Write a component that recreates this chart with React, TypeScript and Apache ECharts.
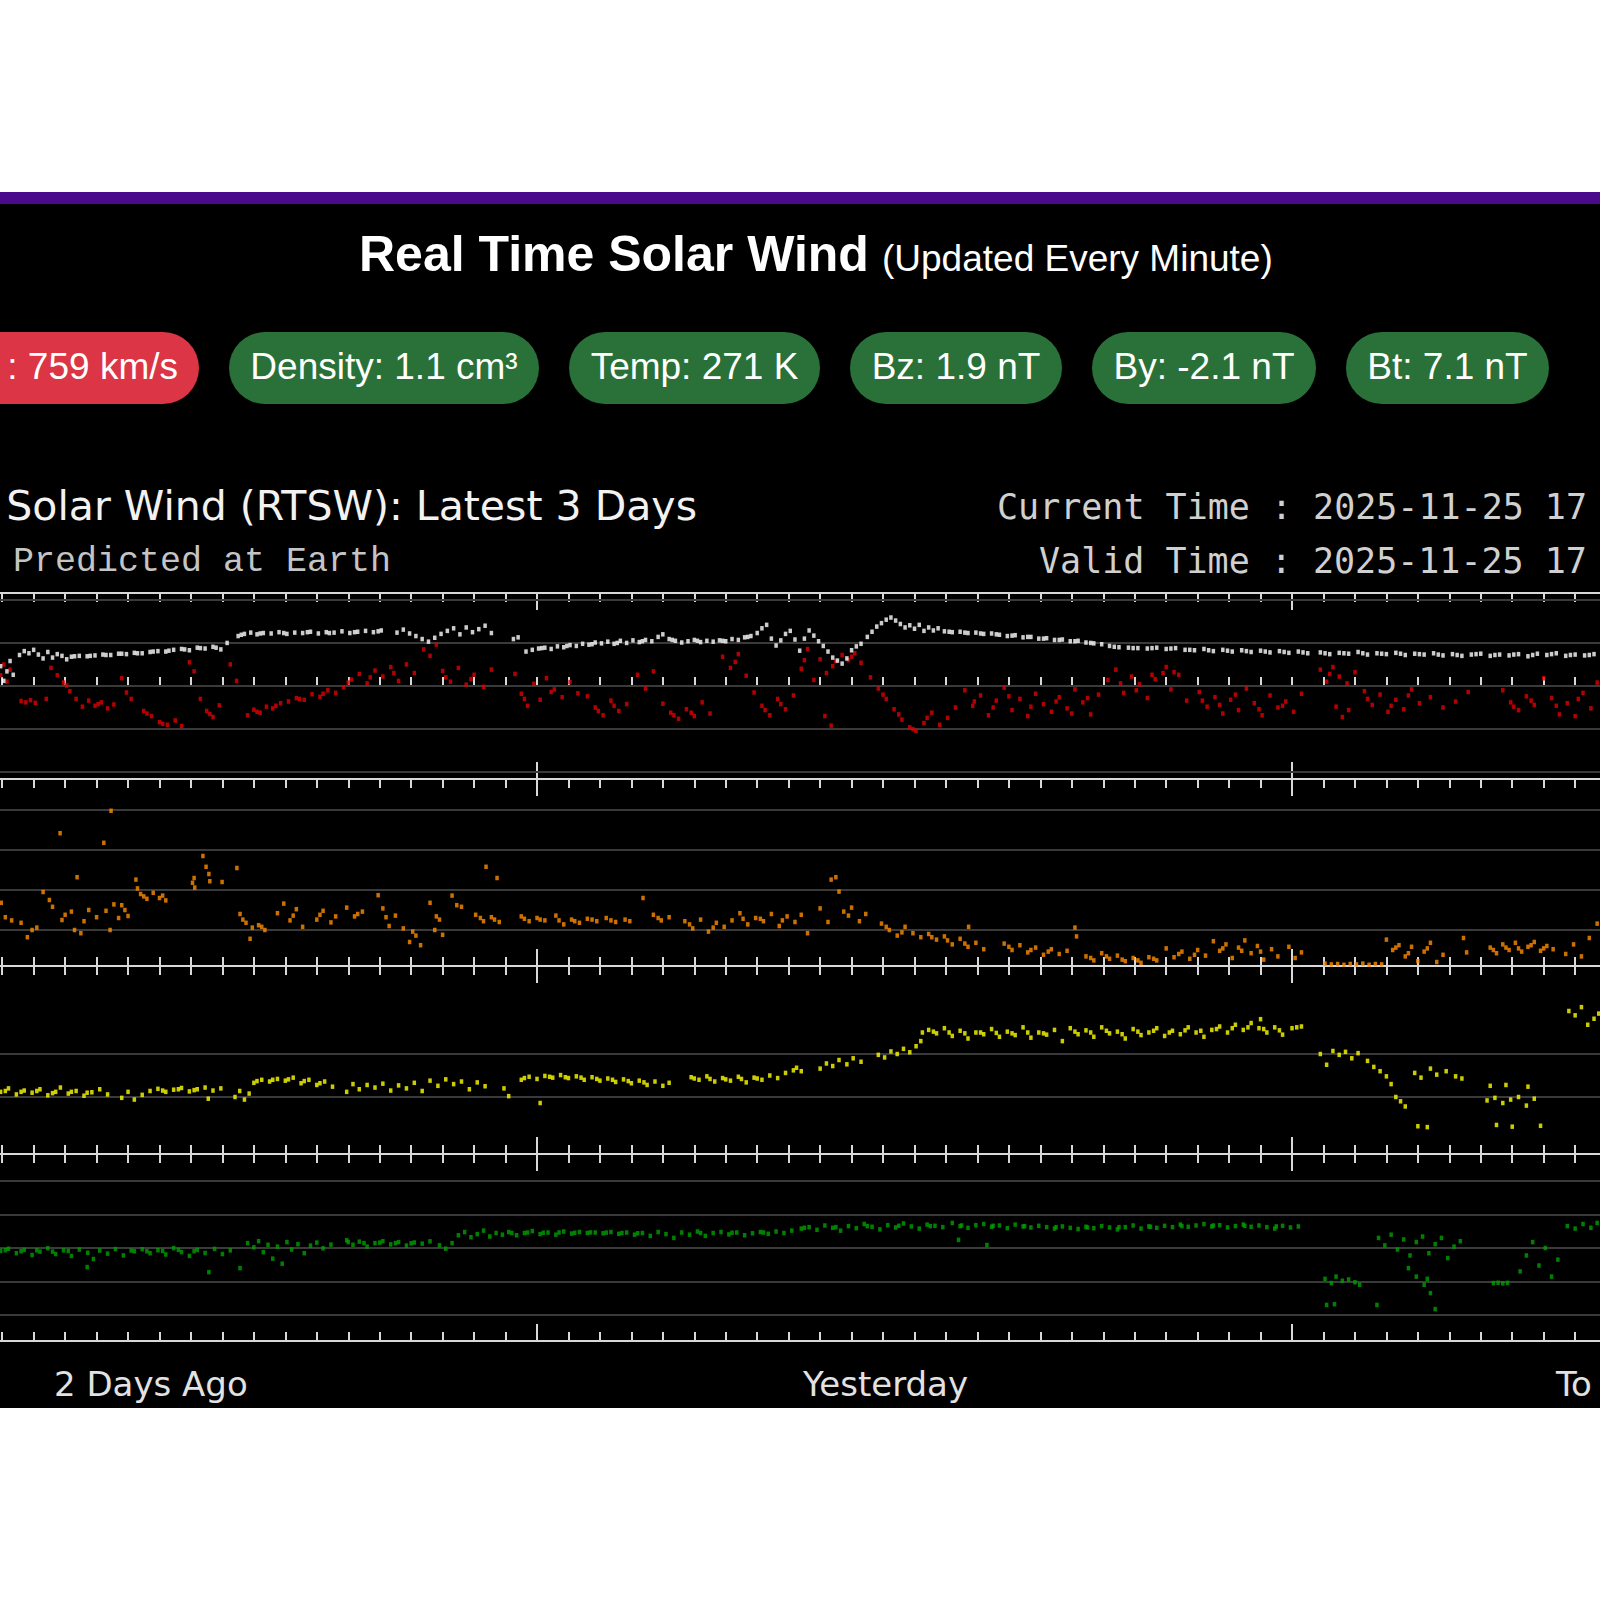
import React, { useEffect, useRef } from "react";
import * as echarts from "echarts";

// ---------- data ----------
const hourTicks = [7, 8, 9, 10, 11, 12, 13, 14, 15, 16, 17, 18, 19, 20, 21, 22, 23, 24, 25, 26, 27, 28, 29, 30, 31, 32, 33, 34, 35, 36, 37, 38, 39, 40, 41, 42, 43, 44, 45, 46, 47, 48, 49, 50, 51, 52, 53, 54, 55, 56, 57];
const dayTicks = [24, 48];
const dayLabels = ["2 Days Ago", "Yesterday", "To"];

const pillLabels = [": 759 km/s", "Density: 1.1 cm³", "Temp: 271 K", "Bz: 1.9 nT", "By: -2.1 nT", "Bt: 7.1 nT"];
const pillColors = ["#dc3545", "#2a7139", "#2a7139", "#2a7139", "#2a7139", "#2a7139"];

const btGridValues = [20, 10, 0, -10, -20];
const densityGridValues = [10, 20, 30, 40];
const speedGridValues = [500, 600];
const tempGridValues = [1e3, 1e4, 1e5, 1e6, 1e7];

// Bt (nT), hours since 2 days ago 00:00
const btData = [
  [6.95, 4.6], [7.05, 1.2], [7.15, 3.4], [7.25, 5.8], [7.35, 2.6],
  [7.55, 7.2], [7.7, 8.1], [7.85, 7.6], [8.0, 8.4], [8.15, 7.3], [8.3, 6.4], [8.45, 7.9], [8.6, 6.6], [8.75, 7.4], [8.9, 7.0], [9.05, 6.2],
  [9.2, 6.8], [9.3, 6.9], [9.45, 7.0], [9.7, 6.9], [9.8, 7.0], [9.95, 7.1], [10.2, 7.3], [10.3, 7.2], [10.45, 7.2], [10.7, 7.5], [10.8, 7.5], [10.95, 7.4], [11.2, 7.7], [11.3, 7.6], [11.45, 7.6], [11.7, 7.9], [11.8, 8.0], [11.95, 8.1], [12.2, 8.0], [12.3, 8.2], [12.45, 8.4], [12.7, 8.6], [12.8, 8.5], [12.95, 8.3], [13.2, 8.9], [13.3, 8.8], [13.45, 8.7], [13.7, 9.1], [13.8, 8.9], [13.95, 8.5], [14.15, 10.0],
  [14.5, 11.6], [14.6, 11.9], [14.7, 12.1], [14.9, 12.4], [15.1, 12.0], [15.2, 12.2], [15.3, 12.3], [15.55, 12.2], [15.8, 12.5], [15.95, 12.3], [16.05, 12.1], [16.3, 12.4], [16.55, 12.3], [16.7, 12.5], [16.8, 12.6], [17.05, 12.2], [17.3, 12.5], [17.4, 12.3], [17.55, 12.4], [17.8, 12.7], [18.05, 12.3], [18.2, 12.5], [18.3, 12.6], [18.55, 12.8], [18.8, 12.5], [18.95, 12.7], [19.05, 12.9],
  [19.55, 12.4], [19.75, 13.1], [19.95, 12.2], [20.15, 11.6], [20.35, 10.9], [20.55, 10.3], [20.75, 11.2], [20.95, 12.1], [21.15, 12.8], [21.35, 13.4], [21.55, 12.0], [21.75, 13.6], [21.95, 12.5], [22.15, 13.2], [22.35, 14.0], [22.55, 12.3],
  [23.25, 10.9], [23.4, 11.3],
  [23.65, 8.0], [23.85, 8.4], [24.05, 8.7], [24.15, 8.8], [24.25, 8.9], [24.45, 8.6], [24.65, 9.2], [24.85, 9.0], [24.95, 9.3], [25.05, 9.5], [25.25, 9.3], [25.45, 9.8], [25.65, 9.6], [25.75, 9.7], [25.85, 10.1], [26.05, 9.9], [26.25, 10.3], [26.45, 9.8], [26.55, 10.0], [26.65, 10.5], [26.85, 10.0], [27.05, 10.6], [27.25, 10.2], [27.35, 10.4], [27.45, 10.7], [27.65, 10.4], [27.85, 11.4], [28.0, 12.0], [28.2, 10.9], [28.3, 10.7], [28.4, 10.5], [28.6, 10.1], [28.8, 10.4], [29.0, 10.7], [29.1, 10.5], [29.2, 10.2], [29.4, 10.5], [29.6, 10.3], [29.8, 10.6], [29.9, 10.5], [30.0, 10.4], [30.2, 10.9], [30.4, 10.7], [30.6, 11.3], [30.7, 11.4], [30.8, 11.6], [31.0, 12.3], [31.15, 13.4], [31.3, 14.2], [31.45, 11.0], [31.6, 9.4], [31.75, 10.6], [31.9, 12.1], [32.05, 12.8], [32.2, 10.8],
  [32.35, 8.2], [32.5, 11.0], [32.65, 12.9], [32.8, 11.7], [32.95, 10.4], [33.1, 9.3], [33.25, 8.0], [33.4, 6.6], [33.55, 5.9], [33.7, 5.2], [33.85, 6.4], [34.0, 8.3], [34.15, 9.2], [34.3, 9.8],
  [34.5, 11.4], [34.65, 12.6], [34.8, 13.8], [34.95, 14.6], [35.1, 15.4], [35.25, 15.9], [35.4, 15.2], [35.55, 14.4], [35.7, 13.6], [35.85, 14.1], [36.0, 13.3], [36.15, 14.2], [36.3, 12.8], [36.45, 13.6], [36.6, 12.9], [36.75, 13.4],
  [36.95, 12.7], [37.1, 12.6], [37.2, 12.5], [37.45, 12.6], [37.6, 12.4], [37.7, 12.3], [37.95, 12.4], [38.1, 12.2], [38.2, 12.1], [38.45, 12.2], [38.6, 12.0], [38.7, 11.9], [38.95, 11.6], [39.1, 11.7], [39.2, 11.8], [39.45, 11.3], [39.6, 11.4], [39.7, 11.4], [39.95, 11.0], [40.1, 11.0], [40.2, 11.1], [40.45, 10.7], [40.6, 10.7], [40.7, 10.8], [40.95, 10.4], [41.1, 10.4], [41.2, 10.5], [41.45, 10.1], [41.6, 10.0], [41.7, 9.9], [41.95, 9.7],
  [42.2, 9.3], [42.35, 9.1], [42.5, 9.0], [42.8, 8.9], [42.95, 8.8], [43.1, 8.8], [43.4, 8.7], [43.55, 8.8], [43.7, 8.9], [44.0, 8.6], [44.15, 8.7], [44.3, 8.8], [44.6, 8.4], [44.75, 8.4], [44.9, 8.3], [45.2, 8.6], [45.35, 8.3], [45.5, 8.1], [45.8, 8.4], [45.95, 8.2], [46.1, 8.0], [46.4, 8.3], [46.55, 8.1], [46.7, 7.9], [47.0, 8.2], [47.15, 8.0], [47.3, 7.8], [47.6, 8.1], [47.75, 7.9], [47.9, 7.7], [48.2, 8.0], [48.35, 7.8], [48.5, 7.6],
  [48.9, 7.8], [49.05, 7.6], [49.2, 7.4], [49.5, 7.7], [49.65, 7.6], [49.8, 7.5], [50.1, 7.9], [50.25, 7.6], [50.4, 7.3], [50.7, 7.6], [50.85, 7.5], [51.0, 7.4], [51.3, 7.7], [51.45, 7.5], [51.6, 7.2], [51.9, 7.5], [52.05, 7.4], [52.2, 7.3], [52.5, 7.6], [52.65, 7.3], [52.8, 7.1], [53.1, 7.4], [53.25, 7.2], [53.4, 7.0], [53.7, 7.3], [53.85, 7.4], [54.0, 7.5], [54.3, 7.0], [54.45, 7.2], [54.6, 7.3], [54.9, 7.1], [55.05, 7.3], [55.2, 7.4], [55.5, 6.9], [55.65, 7.2], [55.8, 7.5], [56.1, 7.2], [56.25, 7.4], [56.4, 7.6], [56.7, 7.0], [56.85, 7.2], [57.0, 7.3], [57.3, 7.1], [57.45, 7.2], [57.6, 7.4],
];

// Bz (nT)
const bzData = [
  [6.95, 2.5], [7.05, 5.0], [7.15, 1.0], [7.25, 3.8],
  [7.6, -3.5], [7.75, -3.8], [7.9, -3.3], [8.05, -3.9], [8.4, -3.0],
  [8.55, 4.2], [8.75, 2.5], [8.95, 0.8], [9.05, 0.1], [9.15, -1.2], [9.35, -3.0], [9.55, -4.8],
  [9.75, -3.4], [9.95, -4.6], [10.05, -4.2], [10.15, -3.8], [10.35, -5.2], [10.55, -4.3],
  [10.8, 1.8], [10.95, -1.5], [11.1, -3.0],
  [11.5, -5.8], [11.6, -6.4], [11.75, -7.0], [12.0, -8.4], [12.1, -8.8], [12.25, -9.0], [12.5, -8.0], [12.7, -9.3],
  [12.95, 5.5], [13.1, 3.4],
  [13.3, -3.0], [13.5, -5.8], [13.6, -6.5], [13.7, -7.2], [13.9, -4.5],
  [14.25, 5.0], [14.45, 1.2],
  [14.8, -6.8], [15.0, -5.5], [15.1, -6.0], [15.2, -6.2], [15.4, -4.8], [15.6, -5.2], [15.7, -4.6], [15.85, -4.0],
  [16.1, -3.6], [16.35, -2.8], [16.45, -3.0], [16.6, -3.2], [16.85, -1.9], [17.1, -2.5], [17.2, -1.8], [17.35, -1.0], [17.6, -1.6], [17.85, -0.3],
  [18.0, 0.8], [18.1, 1.5], [18.35, 2.8], [18.6, 0.6], [18.7, 2.0], [18.85, 3.6], [19.1, 2.2], [19.35, 4.4], [19.45, 3.0], [19.6, 1.2], [19.85, 5.0], [20.1, 3.0],
  [20.4, 8.5], [20.6, 7.0], [20.8, 9.6],
  [21.0, 3.5], [21.1, 2.0], [21.25, 1.0], [21.5, 4.2], [21.75, 0.3], [21.9, 1.6], [22.0, 2.6], [22.3, -0.2], [22.55, 3.8],
  [23.3, 2.8], [23.5, -1.8], [23.6, -3.0], [23.7, -4.6], [23.9, 0.5], [24.1, -3.2],
  [24.3, 1.8], [24.45, -1.4], [24.55, -0.8], [24.8, -2.6], [25.05, 0.9], [25.3, -1.7],
  [25.6, -2.4], [25.85, -5.0], [25.95, -5.8], [26.1, -6.8], [26.35, -3.4], [26.45, -4.6], [26.6, -5.8], [26.85, -4.2],
  [27.2, 2.6], [27.45, -0.6], [27.7, 3.4],
  [28.0, -4.1], [28.25, -6.2], [28.35, -6.8], [28.5, -7.6], [28.75, -5.4], [28.9, -6.2], [29.0, -7.0], [29.25, -3.8], [29.5, -6.4],
  [29.9, 6.8], [30.15, 4.2], [30.3, 5.6], [30.4, 7.4], [30.65, 2.4],
  [30.9, -1.5], [31.15, -4.6], [31.25, -5.6], [31.4, -6.8], [31.65, -3.0], [31.75, -4.2], [31.9, -5.4], [32.15, -2.2],
  [32.4, 4.0], [32.5, 6.0], [32.6, 8.6], [32.8, 1.4], [33.0, 6.2], [33.2, 3.0], [33.4, 4.6], [33.5, 5.8], [33.7, 7.2], [33.9, 6.0], [34.0, 6.8], [34.1, 7.6], [34.3, 5.4],
  [33.15, -7.0], [33.35, -9.2],
  [34.6, 2.0], [34.85, -0.6], [35.0, -2.0], [35.1, -3.0], [35.35, -5.4], [35.5, -6.6], [35.6, -7.8], [35.85, -9.6], [35.95, -10.0], [36.05, -10.4], [36.3, -8.6], [36.4, -7.4], [36.55, -6.2], [36.8, -9.0], [37.05, -7.4], [37.3, -5.0],
  [37.6, -1.0], [37.85, -4.6], [37.9, -3.6], [38.1, -2.2], [38.35, -6.8], [38.5, -5.0], [38.6, -3.4], [38.85, -0.4], [39.0, -2.4], [39.1, -5.6], [39.35, -3.0], [39.6, -7.0], [39.7, -4.8], [39.85, -1.8], [40.1, -4.2], [40.35, -6.0], [40.5, -3.6], [40.6, -2.6], [40.85, -5.2], [41.0, -6.4], [41.1, -0.8], [41.35, -3.8], [41.5, -2.8], [41.6, -6.6], [41.85, -2.0],
  [42.15, 1.4], [42.4, 3.8], [42.55, 0.6], [42.65, -1.6], [42.9, 2.2], [43.05, -1.0], [43.15, 0.4], [43.4, -2.8], [43.55, 2.6], [43.65, 1.6], [43.9, 3.0], [44.15, -0.8], [44.4, 2.6], [44.65, -3.4],
  [44.0, 4.4], [44.25, 3.2],
  [45.05, -1.4], [45.15, -3.4], [45.3, -4.8], [45.55, -2.6], [45.7, -4.4], [45.8, -6.4], [46.05, -3.2], [46.2, -2.0], [46.3, -5.6], [46.55, -0.6], [46.8, -4.0], [46.95, -5.4], [47.05, -6.8], [47.3, -2.2], [47.55, -5.0], [47.7, -4.6], [47.8, -3.6], [48.05, -6.0], [48.3, -1.8],
  [48.9, 3.8], [49.1, 1.0], [49.2, 2.8], [49.3, 4.4], [49.5, 2.2], [49.75, 0.6], [50.0, 3.2],
  [49.4, -4.8], [49.6, -7.2], [49.8, -5.6],
  [50.3, -1.2], [50.4, -3.0], [50.55, -4.4], [50.8, -2.0], [51.05, -6.0], [51.15, -4.6], [51.3, -3.2], [51.55, -5.4], [51.7, -2.2], [51.8, -0.8], [52.05, -4.0],
  [52.4, -2.6], [52.8, -5.0], [53.2, -3.6], [53.6, -1.4],
  [54.7, -1.0], [54.95, -3.8], [55.05, -4.8], [55.2, -5.6], [55.45, -2.4], [55.6, -3.4], [55.7, -4.4],
  [56.0, 1.8], [56.25, -2.8], [56.4, -4.6], [56.5, -6.6], [56.75, -4.0], [57.0, -7.0], [57.1, -3.0], [57.25, -1.6], [57.5, -5.2], [57.7, 0.8],
];

// Density (cm^-3)
const densityData = [
  [6.97, 16.8], [7.1, 13.2], [7.3, 12.4], [7.6, 11.8], [7.8, 8.2], [7.95, 10.0], [8.1, 10.6], [8.3, 19.5], [8.5, 17.5], [8.84, 34.2], [8.6, 15.8], [8.9, 12.5], [9.0, 13.8], [9.2, 14.6], [9.3, 10.0], [9.38, 23.2], [9.5, 9.2], [9.6, 12.2], [9.75, 15.0], [10.0, 13.2], [10.23, 31.8], [10.46, 39.8], [10.3, 14.8], [10.43, 10.0], [10.55, 16.4], [10.7, 13.0], [10.8, 16.2], [10.9, 15.0], [11.0, 13.5],
  [11.25, 22.6], [11.3, 20.4], [11.4, 19.0], [11.5, 18.4], [11.6, 17.8], [11.8, 19.3], [12.0, 18.0], [12.1, 18.6], [12.2, 17.4],
  [13.05, 21.8], [13.1, 23.0], [13.12, 20.6], [13.38, 28.5], [13.48, 25.8], [13.57, 24.0], [13.6, 22.2], [13.99, 22.0], [14.46, 25.5],
  [14.56, 14.0], [14.65, 12.6], [14.75, 11.8], [14.88, 7.8], [14.95, 10.6], [15.15, 11.2], [15.25, 10.8], [15.35, 10.0],
  [15.75, 14.2], [15.95, 16.6], [16.15, 12.4], [16.25, 13.6], [16.35, 15.2], [16.55, 10.8],
  [17.0, 12.6], [17.1, 13.8], [17.2, 14.8], [17.45, 11.9], [17.6, 13.4],
  [17.95, 15.6], [18.2, 13.4], [18.3, 14.0], [18.45, 14.6], [18.95, 18.7],
  [19.1, 15.4], [19.2, 13.2], [19.3, 11.0], [19.5, 13.6], [19.75, 10.4], [19.95, 7.0], [20.05, 9.6], [20.15, 8.6], [20.3, 6.2],
  [20.6, 16.8], [20.75, 10.0], [20.8, 13.4], [20.9, 12.6], [21.0, 8.8], [21.3, 18.6], [21.45, 16.2], [21.6, 15.8],
  [22.05, 13.8], [22.2, 13.0], [22.3, 12.2], [22.38, 25.8], [22.55, 13.2], [22.65, 12.6], [22.73, 23.0], [22.8, 12.0],
  [23.5, 13.4], [23.6, 12.8], [23.75, 12.2], [24.0, 13.0], [24.1, 12.6], [24.25, 12.4], [24.6, 13.6], [24.7, 12.4], [24.85, 11.4], [25.1, 12.6], [25.2, 12.2], [25.35, 11.8],
  [25.6, 12.8], [25.75, 12.6], [25.9, 12.2], [26.2, 13.0], [26.35, 12.4], [26.5, 12.0], [26.8, 12.6], [26.95, 12.2], [27.37, 18.0],
  [27.7, 13.8], [27.85, 13.0], [27.95, 12.4], [28.2, 13.2],
  [28.7, 12.2], [28.85, 11.4], [28.95, 10.4], [29.2, 12.6], [29.45, 9.6], [29.6, 10.6], [29.7, 11.8], [29.95, 10.8], [30.2, 12.4],
  [30.45, 14.2], [30.55, 12.8], [30.7, 11.4], [30.95, 13.0], [31.1, 12.8], [31.2, 12.2], [31.45, 14.0], [31.7, 11.0], [31.8, 12.4], [31.95, 13.4], [32.2, 12.0],
  [32.4, 13.8], [32.6, 9.2], [33.35, 22.6], [33.5, 23.2], [33.6, 19.6],
  [33.0, 15.4], [33.25, 12.0], [33.75, 14.6], [33.9, 13.6], [34.0, 15.6], [34.25, 12.2], [34.45, 14.0],
  [34.95, 11.6], [35.1, 10.8], [35.2, 10.0], [35.45, 8.6], [35.6, 9.4], [35.7, 10.8], [35.95, 9.2], [36.2, 8.2],
  [36.45, 9.0], [36.55, 8.2], [36.7, 7.6], [36.95, 8.4], [37.05, 7.4], [37.2, 6.4], [37.45, 7.8], [37.6, 6.6], [37.7, 5.8], [37.72, 10.8], [37.95, 6.8], [38.2, 5.2],
  [38.85, 6.6], [39.0, 5.8], [39.1, 5.0], [39.35, 6.2], [39.6, 4.4], [39.7, 5.0], [39.85, 5.6], [40.1, 3.8], [40.25, 4.6], [40.35, 5.2], [40.6, 4.0], [40.85, 4.8],
  [41.1, 10.6], [41.15, 8.4],
  [41.45, 3.4], [41.6, 3.0], [41.7, 2.4], [41.95, 4.2], [42.1, 3.4], [42.2, 2.8], [42.45, 3.6], [42.6, 2.6], [42.7, 2.2], [42.95, 3.0], [43.1, 2.4], [43.2, 1.8], [43.45, 3.2], [43.6, 2.8], [43.7, 2.4],
  [44.0, 5.4], [44.25, 3.2], [44.4, 4.0], [44.5, 4.6], [44.75, 2.8], [44.9, 3.8], [45.0, 5.0], [45.25, 3.6],
  [45.5, 7.2], [45.7, 4.8], [45.8, 5.4], [45.9, 6.4], [46.1, 3.0], [46.3, 5.6], [46.4, 4.8], [46.5, 7.4], [46.7, 4.2], [46.9, 6.0], [47.0, 4.6], [47.1, 2.6], [47.35, 5.2], [47.55, 3.4],
  [47.9, 5.8], [48.1, 3.0], [48.3, 4.4],
  [49.05, 1.6], [49.25, 1.4], [49.45, 1.5], [49.65, 1.3], [49.85, 1.5], [50.05, 1.4], [50.25, 1.6], [50.45, 1.3], [50.65, 1.5], [50.85, 1.4],
  [51.0, 7.6], [51.2, 5.0], [51.3, 5.6], [51.4, 6.2], [51.6, 3.4], [51.7, 4.2], [51.8, 5.8], [52.0, 2.2], [52.2, 4.6], [52.3, 5.4], [52.4, 6.8], [52.6, 2.0], [52.8, 3.8],
  [53.45, 8.0], [53.55, 4.4],
  [54.3, 5.6], [54.4, 5.0], [54.5, 4.2], [54.7, 6.4], [54.8, 5.6], [54.9, 5.0], [55.1, 6.8], [55.2, 5.4], [55.3, 4.6], [55.5, 5.8], [55.6, 6.2], [55.7, 7.0], [55.9, 4.8], [56.0, 5.4], [56.1, 6.0], [56.3, 5.2],
  [56.7, 4.0], [56.95, 6.4], [57.2, 3.4], [57.45, 8.0], [57.7, 11.6],
];

// Speed (km/s)
const speedData = [
  [6.95, 512], [7.1, 514], [7.2, 520], [7.45, 506], [7.6, 512], [7.7, 515], [7.95, 510], [8.1, 514], [8.2, 518], [8.45, 504], [8.6, 509], [8.7, 512], [8.85, 522],
  [9.1, 508], [9.2, 512], [9.35, 514], [9.6, 503], [9.7, 510], [9.85, 511], [10.1, 518], [10.35, 506],
  [10.8, 498], [11.0, 512], [11.2, 494], [11.45, 505],
  [11.7, 514], [11.95, 519], [12.1, 515], [12.2, 512], [12.45, 517], [12.6, 518], [12.7, 521], [12.95, 513], [13.1, 516], [13.2, 518], [13.45, 522], [13.55, 496], [13.7, 515], [13.95, 520],
  [14.4, 500], [14.55, 514], [14.7, 494], [14.85, 508],
  [15.0, 533], [15.1, 537], [15.25, 540], [15.5, 536], [15.6, 540], [15.75, 542], [16.0, 538], [16.1, 541], [16.25, 545], [16.5, 532], [16.6, 537], [16.75, 540], [17.0, 528], [17.1, 532], [17.25, 536], [17.5, 524],
  [17.95, 512], [18.15, 530], [18.35, 518],
  [18.6, 528], [18.85, 522], [19.1, 531], [19.35, 515], [19.6, 527], [19.85, 520], [20.1, 533], [20.35, 514],
  [20.6, 538], [20.85, 526], [21.1, 541], [21.35, 530], [21.6, 536], [21.85, 518], [22.1, 534], [22.35, 525],
  [22.95, 520], [23.1, 502],
  [23.5, 540], [23.6, 544], [23.75, 547], [24.0, 542], [24.1, 486], [24.25, 549], [24.4, 547], [24.5, 545], [24.75, 551], [24.9, 546], [25.0, 544], [25.25, 548], [25.4, 545], [25.5, 540], [25.75, 546], [25.9, 542], [26.0, 538], [26.25, 543], [26.4, 540], [26.5, 535], [26.75, 541], [26.9, 537], [27.0, 532], [27.25, 538], [27.4, 534], [27.5, 528], [27.75, 536], [28.0, 526], [28.2, 533],
  [28.9, 546], [29.0, 543], [29.15, 540], [29.4, 548], [29.5, 542], [29.65, 536], [29.9, 544], [30.0, 541], [30.15, 538], [30.4, 547], [30.5, 542], [30.65, 534], [30.9, 545], [31.0, 543], [31.15, 540], [31.4, 550], [31.65, 544], [31.9, 556], [32.15, 562], [32.25, 568],
  [32.4, 560],
  [33.0, 566], [33.2, 578], [33.4, 572], [33.6, 586], [33.85, 576], [34.05, 590], [34.3, 582],
  [34.85, 598], [35.05, 592], [35.25, 606], [35.45, 600], [35.65, 612], [35.85, 604], [36.05, 618],
  [36.2, 630], [36.25, 650],
  [36.45, 656], [36.6, 652], [36.7, 648], [36.95, 660], [37.1, 650], [37.2, 642], [37.45, 654], [37.6, 648], [37.7, 636], [37.95, 650], [38.1, 650], [38.2, 646], [38.45, 658], [38.6, 649], [38.7, 640], [38.95, 652], [39.1, 648], [39.2, 644], [39.45, 662], [39.6, 650], [39.7, 638], [39.95, 650], [40.1, 648], [40.2, 645], [40.45, 656], [40.7, 630],
  [40.95, 660], [41.1, 652], [41.2, 646], [41.45, 655], [41.6, 650], [41.7, 640], [41.95, 662], [42.1, 654], [42.2, 648], [42.45, 652], [42.6, 646], [42.7, 636], [42.95, 658], [43.1, 652], [43.2, 644], [43.45, 650], [43.6, 654], [43.7, 660], [43.95, 642], [44.1, 650], [44.2, 654], [44.45, 646], [44.6, 655], [44.7, 662], [44.95, 650], [45.1, 654], [45.2, 640], [45.45, 656], [45.6, 658], [45.7, 664], [45.95, 650], [46.1, 660], [46.2, 668], [46.45, 656], [46.6, 662], [46.7, 672], [46.95, 660], [47.0, 681], [47.1, 658], [47.2, 650], [47.45, 662], [47.6, 655], [47.7, 645], [48.0, 660], [48.15, 662], [48.3, 664],
  [48.9, 600], [49.1, 575], [49.3, 607], [49.5, 598], [49.7, 605], [49.9, 590], [50.1, 602],
  [50.4, 584], [50.6, 570], [50.8, 560], [51.0, 548], [51.15, 530],
  [51.3, 500], [51.45, 490], [51.6, 478],
  [52.0, 432], [52.3, 430],
  [51.9, 556], [52.1, 545], [52.4, 566], [52.6, 552], [52.9, 560], [53.2, 548], [53.4, 543],
  [54.2, 492], [54.45, 498], [54.7, 486], [54.95, 494], [55.2, 500], [55.45, 480], [55.7, 496],
  [54.3, 526], [54.8, 528], [55.5, 524], [55.9, 433], [55.0, 431], [54.5, 435],
  [56.8, 700], [57.0, 690], [57.2, 709], [57.4, 668], [57.6, 682], [57.75, 694],
];

// Temperature (K)
const tempData = [
  [6.95, 82000], [7.1, 86000], [7.2, 95000], [7.45, 70000], [7.6, 80000], [7.7, 88000], [7.95, 62000], [8.1, 85000], [8.2, 78000], [8.45, 98000], [8.6, 78000], [8.7, 66000], [8.95, 85000], [9.1, 82000], [9.2, 58000], [9.45, 90000], [9.7, 27000], [9.72, 72000], [9.9, 47000], [10.1, 84000], [10.35, 68000], [10.6, 93000], [10.85, 60000],
  [11.1, 84000], [11.2, 80000], [11.45, 92000], [11.6, 80000], [11.7, 70000], [11.95, 86000], [12.1, 82000], [12.2, 64000], [12.45, 99000], [12.6, 88000], [12.7, 76000], [12.95, 58000], [13.1, 80000], [13.2, 88000], [13.45, 71000], [13.57, 19000], [13.75, 94000], [14.0, 66000], [14.25, 85000], [14.56, 25000],
  [14.8, 140000], [15.0, 105000], [15.15, 160000], [15.3, 75000], [15.45, 125000], [15.6, 48000], [15.75, 110000], [15.9, 34000], [16.05, 150000], [16.2, 90000], [16.4, 130000], [16.6, 70000], [16.8, 118000], [17.0, 145000], [17.2, 98000], [17.45, 126000],
  [17.95, 170000], [18.0, 150000], [18.15, 125000], [18.35, 155000], [18.5, 140000], [18.6, 110000], [18.85, 140000], [19.0, 145000], [19.1, 160000], [19.35, 128000], [19.5, 140000], [19.6, 150000], [19.85, 118000], [20.0, 138000], [20.1, 146000], [20.35, 135000], [20.6, 158000],
  [20.9, 120000], [21.1, 95000], [21.3, 140000],
  [21.5, 240000], [21.7, 300000], [21.9, 210000], [22.1, 260000], [22.3, 330000], [22.5, 220000], [22.7, 280000], [22.9, 250000],
  [23.1, 300000], [23.2, 280000], [23.35, 240000], [23.6, 280000], [23.7, 290000], [23.85, 320000], [24.1, 260000], [24.2, 285000], [24.35, 290000], [24.6, 250000], [24.7, 290000], [24.85, 310000], [25.1, 270000], [25.2, 285000], [25.35, 300000], [25.6, 280000], [25.7, 292000], [25.85, 290000], [26.1, 275000], [26.2, 288000], [26.35, 300000], [26.6, 265000], [26.7, 280000], [26.85, 290000], [27.1, 250000], [27.2, 275000], [27.35, 280000], [27.6, 230000], [27.85, 300000], [28.1, 260000], [28.35, 200000], [28.6, 290000], [28.85, 250000], [29.1, 310000], [29.2, 280000], [29.35, 230000], [29.6, 280000], [29.85, 300000], [30.1, 255000], [30.2, 285000], [30.35, 290000], [30.6, 240000], [30.85, 275000], [31.1, 300000], [31.2, 290000], [31.35, 265000], [31.6, 310000], [31.85, 280000], [32.1, 330000],
  [32.4, 380000], [32.5, 400000], [32.65, 420000], [32.9, 350000], [33.15, 470000], [33.4, 400000], [33.5, 420000], [33.65, 330000], [33.9, 450000], [34.15, 390000], [34.4, 520000], [34.5, 450000], [34.65, 430000], [34.9, 360000], [35.15, 480000], [35.4, 410000], [35.5, 460000], [35.65, 540000], [35.9, 440000], [36.15, 380000], [36.4, 500000], [36.5, 450000], [36.65, 460000], [36.9, 420000], [37.2, 560000], [37.4, 175000], [37.45, 450000], [37.5, 470000], [37.7, 400000], [37.95, 480000], [38.2, 520000], [38.3, 123000], [38.45, 430000], [38.5, 460000], [38.7, 470000], [38.95, 390000], [39.2, 500000], [39.45, 440000], [39.5, 450000], [39.7, 410000], [39.95, 460000], [40.2, 420000], [40.45, 380000], [40.5, 420000], [40.7, 440000], [40.95, 400000], [41.2, 370000], [41.45, 430000], [41.5, 410000], [41.7, 390000], [41.95, 450000], [42.2, 410000], [42.45, 360000], [42.5, 420000], [42.7, 420000], [42.95, 470000], [43.2, 380000], [43.45, 440000], [43.5, 430000], [43.7, 400000], [43.95, 460000], [44.2, 420000], [44.45, 500000], [44.5, 450000], [44.7, 430000], [44.95, 470000], [45.2, 520000], [45.45, 440000], [45.5, 470000], [45.7, 480000], [45.95, 410000], [46.2, 450000], [46.45, 500000], [46.5, 460000], [46.7, 430000], [46.95, 470000], [47.2, 420000], [47.45, 380000], [47.5, 440000], [47.7, 460000], [47.95, 410000], [48.2, 440000],
  [49.05, 12000], [49.25, 9000], [49.4, 14000], [49.6, 10500], [49.8, 11500], [50.0, 9500], [50.15, 8000],
  [49.1, 2000], [49.35, 2100], [50.7, 2000],
  [50.75, 200000], [50.95, 120000], [51.15, 250000], [51.35, 90000], [51.55, 180000], [51.75, 60000], [51.95, 150000], [52.15, 220000], [52.35, 70000], [52.55, 130000], [52.75, 200000], [52.95, 50000], [53.15, 110000], [53.35, 160000],
  [51.7, 25000], [51.95, 14000], [52.2, 8000], [52.4, 4500], [52.55, 1500], [52.3, 12000],
  [54.4, 9000], [54.55, 9200], [54.7, 8800], [54.85, 9100],
  [55.25, 20000], [55.45, 60000], [55.65, 150000], [55.85, 30000], [56.05, 100000], [56.25, 14000], [56.45, 45000],
  [56.75, 450000], [57.0, 380000], [57.25, 520000], [57.5, 400000], [57.7, 560000],
];

// ---------- layout ----------
const XMIN = 6.93;
const XMAX = 57.79;
const PANELS = [
  { top: 593, height: 186 },
  { top: 779, height: 187 },
  { top: 966, height: 188 },
  { top: 1154, height: 187 },
];
const PILL_BOXES = [
  { x: -120, w: 319 },
  { x: 229, w: 310 },
  { x: 569, w: 251 },
  { x: 850, w: 212 },
  { x: 1092, w: 224 },
  { x: 1346, w: 203 },
];
const DAY_LABEL_X = [54, 803, 1556];
const AXIS_COLOR = "#d8d8d8";
const GRID_COLOR = "#3a3a3a";

function gridMark(values: number[]) {
  return {
    silent: true,
    symbol: ["none", "none"],
    z: 1,
    label: { show: false },
    emphasis: { disabled: true },
    lineStyle: { color: GRID_COLOR, width: 2, type: "solid" },
    data: values.map((v) => ({ yAxis: v })),
  };
}

function buildOption() {
  const grid = PANELS.map((p) => ({ left: 0, width: 1600, top: p.top, height: p.height, containLabel: false }));
  const xAxis: any[] = [];
  PANELS.forEach((_, i) => {
    const base = {
      gridIndex: i,
      type: "value",
      min: XMIN,
      max: XMAX,
      axisLabel: { show: false },
      splitLine: { show: false },
    };
    const minorTick = { show: true, inside: true, length: 9, customValues: hourTicks, lineStyle: { color: AXIS_COLOR, width: 2 } };
    const majorTick = { show: true, inside: true, length: 17, customValues: dayTicks, lineStyle: { color: AXIS_COLOR, width: 2 } };
    xAxis.push({ ...base, position: "bottom", axisLine: { show: true, lineStyle: { color: AXIS_COLOR, width: 2 } }, axisTick: minorTick });
    xAxis.push({ ...base, position: "top", axisLine: { show: true, lineStyle: { color: AXIS_COLOR, width: 2 } }, axisTick: minorTick });
    xAxis.push({ ...base, position: "bottom", axisLine: { show: false }, axisTick: majorTick });
    xAxis.push({ ...base, position: "top", axisLine: { show: false }, axisTick: majorTick });
  });

  const yBase = { show: false, splitLine: { show: false } };
  const yAxis = [
    { ...yBase, gridIndex: 0, type: "value", min: -21.6, max: 21.6 },
    { ...yBase, gridIndex: 1, type: "value", min: 1, max: 47.75 },
    { ...yBase, gridIndex: 2, type: "value", min: 367.44, max: 804.65 },
    { ...yBase, gridIndex: 3, type: "log", logBase: 10, min: 167.5, max: 6.4e7 },
  ];

  const dot = { symbol: "rect", symbolSize: [3.5, 4.5], silent: true };
  const series = [
    { ...dot, type: "scatter", name: "Bz", xAxisIndex: 0, yAxisIndex: 0, data: bzData, itemStyle: { color: "#e00000" }, z: 2 },
    { ...dot, type: "scatter", name: "Bt", xAxisIndex: 0, yAxisIndex: 0, data: btData, itemStyle: { color: "#ffffff" }, z: 3, markLine: gridMark(btGridValues) },
    { ...dot, type: "scatter", name: "Density", xAxisIndex: 4, yAxisIndex: 1, data: densityData, itemStyle: { color: "#ff8c00" }, z: 2, markLine: gridMark(densityGridValues) },
    { ...dot, type: "scatter", name: "Speed", xAxisIndex: 8, yAxisIndex: 2, data: speedData, itemStyle: { color: "#ffff00" }, z: 2, markLine: gridMark(speedGridValues) },
    { ...dot, type: "scatter", name: "Temperature", xAxisIndex: 12, yAxisIndex: 3, data: tempData, itemStyle: { color: "#00a000" }, z: 2, markLine: gridMark(tempGridValues) },
  ];

  const txt = (x: number, y: number, text: string, font: string, fill: string, align = "left") => ({
    type: "text",
    x,
    y,
    z: 110,
    silent: true,
    style: { text, font, fill, textAlign: align, align, textVerticalAlign: "middle", verticalAlign: "middle" },
  });

  const graphic: any[] = [
    { type: "rect", z: 100, silent: true, shape: { x: 0, y: 0, width: 1600, height: 192 }, style: { fill: "#ffffff" } },
    { type: "rect", z: 100, silent: true, shape: { x: 0, y: 192, width: 1600, height: 12 }, style: { fill: "#4b0a8c" } },
    { type: "rect", z: 100, silent: true, shape: { x: 0, y: 1408, width: 1600, height: 192 }, style: { fill: "#ffffff" } },
    txt(359, 254, "Real Time Solar Wind", 'bold 50px "Liberation Sans", Arial, sans-serif', "#ffffff"),
    txt(882, 258, "(Updated Every Minute)", '37px "Liberation Sans", Arial, sans-serif', "#ffffff"),
    txt(697, 506, "Solar Wind (RTSW): Latest 3 Days", '41px "DejaVu Sans", sans-serif', "#f2f2f2", "right"),
    txt(13, 562, "Predicted at Earth", '35px "Liberation Mono", monospace', "#c4c4c4"),
    txt(997, 507, "Current Time : 2025-11-25 17", '35px "DejaVu Sans Mono", monospace', "#d0d0d0"),
    txt(1039, 561, "Valid Time : 2025-11-25 17", '35px "DejaVu Sans Mono", monospace', "#d0d0d0"),
  ];
  pillLabels.forEach((label, i) => {
    const b = PILL_BOXES[i];
    graphic.push({ type: "rect", z: 105, silent: true, shape: { x: b.x, y: 332, width: b.w, height: 72, r: 36 }, style: { fill: pillColors[i] } });
    if (i === 0) {
      graphic.push(txt(178, 366, label, '37px "Liberation Sans", Arial, sans-serif', "#ffffff", "right"));
    } else {
      graphic.push(txt(b.x + b.w / 2, 366, label, '37px "Liberation Sans", Arial, sans-serif', "#ffffff", "center"));
    }
  });
  dayLabels.forEach((label, i) => {
    graphic.push(txt(DAY_LABEL_X[i], 1384, label, '34px "DejaVu Sans", sans-serif', "#e2e2e2"));
  });

  return {
    animation: false,
    backgroundColor: "#000000",
    grid,
    xAxis,
    yAxis,
    series,
    graphic,
  };
}

export default function App() {
  const ref = useRef<HTMLDivElement>(null);
  useEffect(() => {
    if (!ref.current) return;
    const chart = echarts.init(ref.current, undefined, { renderer: "svg" });
    chart.setOption(buildOption() as any);
    return () => chart.dispose();
  }, []);
  return <div ref={ref} style={{ position: "fixed", left: 0, top: 0, width: 1600, height: 1600 }} />;
}
